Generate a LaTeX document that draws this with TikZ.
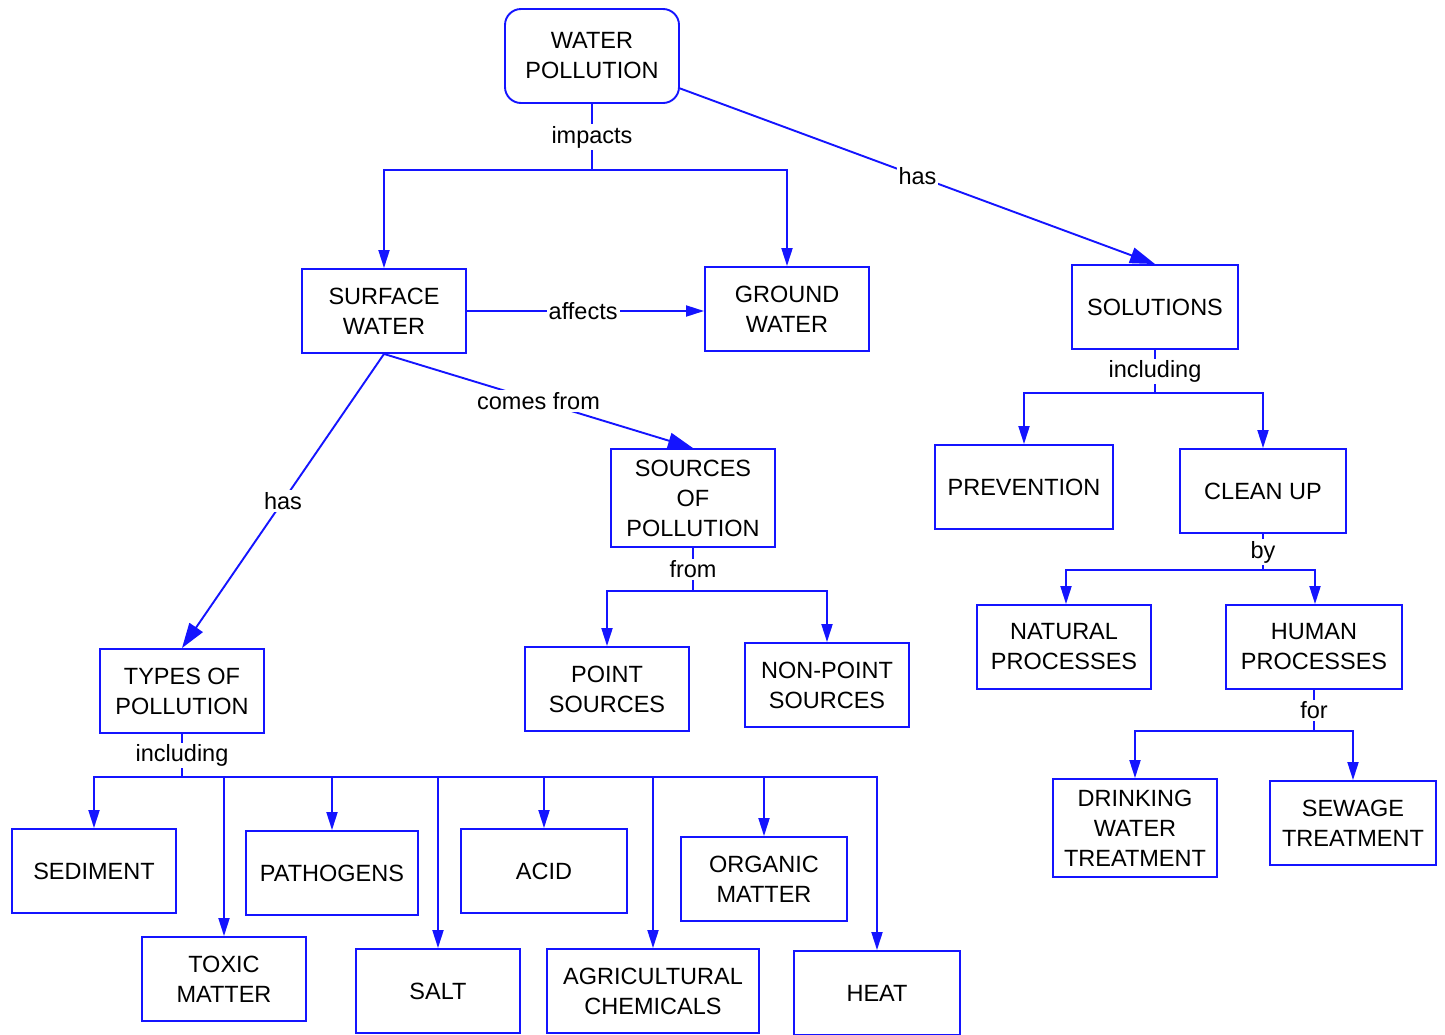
\documentclass[tikz,border=0pt]{standalone}
\usepackage{fontspec}
\setmainfont{Liberation Sans}
\usetikzlibrary{arrows.meta}
\definecolor{ln}{RGB}{20,20,255}
\tikzset{
  box/.style={draw=ln, line width=1.9pt, minimum width=164pt, minimum height=84pt, inner sep=0pt, align=center, font=\fontsize{23.5}{30}\selectfont},
  lbl/.style={fill=white, inner sep=2pt, font=\fontsize{23.5}{28}\selectfont},
  conn/.style={draw=ln, line width=1.9pt},
  arr/.style={conn, -{Triangle[length=18pt,width=11pt]}},
  arrD/.style={conn, -{Triangle[length=25pt,width=16pt]}},
}
\begin{document}
\begin{tikzpicture}[x=1pt,y=-1pt]
\useasboundingbox (0,0) rectangle (1445,1034);
\clip (0,0) rectangle (1445,1034);
\fill[white] (0,0) rectangle (1445,1034);
% nodes
\node[box, rounded corners=16pt, minimum width=174pt, minimum height=94pt] (wp) at (592,56) {WATER\\POLLUTION};
\node[box] (sw) at (384,311) {SURFACE\\WATER};
\node[box] (gw) at (787,309) {GROUND\\WATER};
\node[box, minimum width=166pt] (sol) at (1155,307) {SOLUTIONS};
\node[box, minimum width=178pt] (prev) at (1024,487) {PREVENTION};
\node[box, minimum width=166pt] (clean) at (1263,491) {CLEAN UP};
\node[box, minimum width=174pt] (nat) at (1064,647) {NATURAL\\PROCESSES};
\node[box, minimum width=176pt] (hum) at (1314,647) {HUMAN\\PROCESSES};
\node[box, minimum height=98pt] (drink) at (1135,828) {DRINKING\\WATER\\TREATMENT};
\node[box, minimum width=166pt] (sew) at (1353,823) {SEWAGE\\TREATMENT};
\node[box, minimum height=98pt] (src) at (693,498) {SOURCES\\OF\\POLLUTION};
\node[box] (pt) at (607,689) {POINT\\SOURCES};
\node[box] (npt) at (827,685) {NON-POINT\\SOURCES};
\node[box] (types) at (182,691) {TYPES OF\\POLLUTION};
\node[box] (sed) at (94,871) {SEDIMENT};
\node[box] (tox) at (224,979) {TOXIC\\MATTER};
\node[box, minimum width=172pt] (path) at (332,873) {PATHOGENS};
\node[box] (salt) at (438,991) {SALT};
\node[box, minimum width=166pt] (acid) at (544,871) {ACID};
\node[box, minimum width=212pt] (agri) at (653,991) {AGRICULTURAL\\CHEMICALS};
\node[box, minimum width=166pt] (org) at (764,879) {ORGANIC\\MATTER};
\node[box, minimum width=166pt] (heat) at (877,993) {HEAT};
% junctions
\coordinate (j1) at (592,170);
\coordinate (j2) at (1155,393);
\coordinate (j3) at (1263,570);
\coordinate (j4) at (1314,731);
\coordinate (j5) at (693,591);
\coordinate (j6) at (182,777);
% connectors
\draw[conn] (wp) -- node[lbl]{impacts} (j1);
\draw[arr] (j1) -| (sw);
\draw[arr] (j1) -| (gw);
\draw[arrD] (wp) -- node[lbl]{has} (sol.north);
\draw[arr] (sw.east) -- node[lbl, pos=0.49]{affects} (sw.east -| gw.west);
\draw[arrD] (sw.south) -- node[lbl]{comes from} (src.north);
\draw[arrD] (sw.south) -- node[lbl]{has} (types.north);
\draw[conn] (sol) -- node[lbl]{including} (j2);
\draw[arr] (j2) -| (prev);
\draw[arr] (j2) -| (clean);
\draw[conn] (clean) -- node[lbl]{by} (j3);
\draw[arr] (j3) -| ([xshift=2pt]nat.north);
\draw[arr] (j3) -| ([xshift=1pt]hum.north);
\draw[conn] (hum) -- node[lbl]{for} (j4);
\draw[arr] (j4) -| (drink);
\draw[arr] (j4) -| (sew);
\draw[conn] (src) -- node[lbl]{from} (j5);
\draw[arr] (j5) -| (pt);
\draw[arr] (j5) -| (npt);
\draw[conn] (types) -- node[lbl]{including} (j6);
\foreach \c in {sed,tox,path,salt,acid,agri,org,heat}
  \draw[arr] (j6) -| (\c);
\end{tikzpicture}
\end{document}
